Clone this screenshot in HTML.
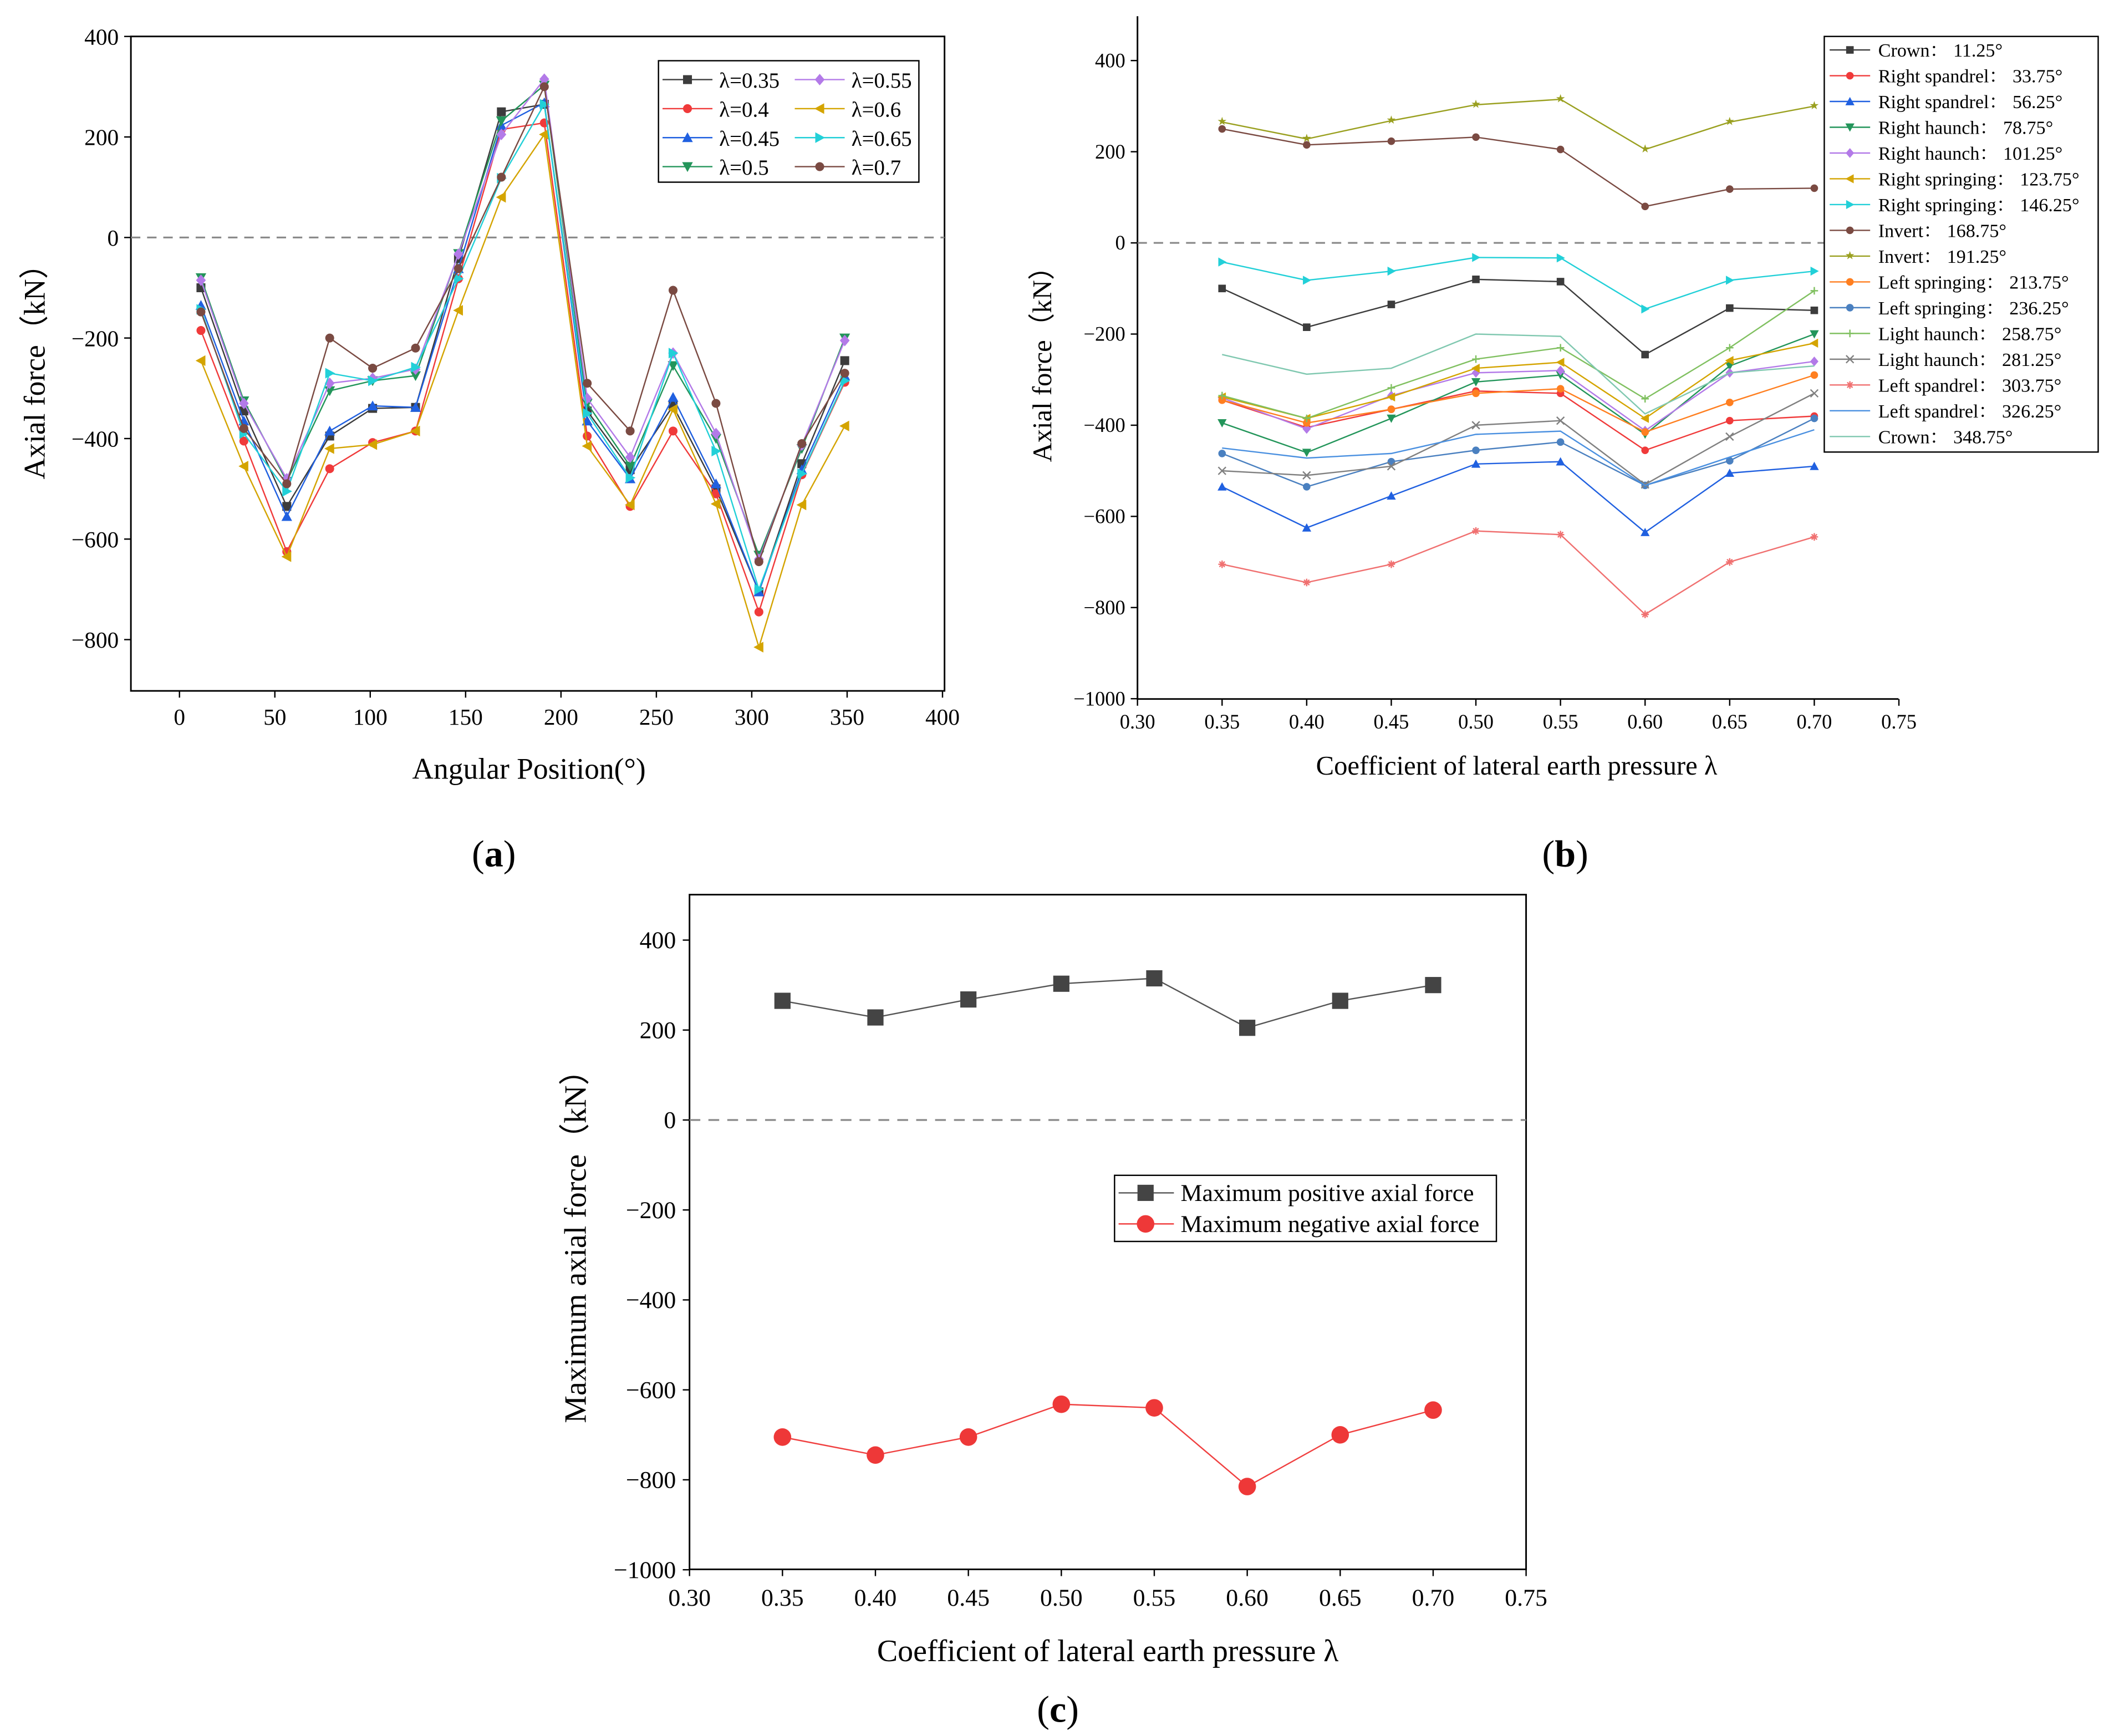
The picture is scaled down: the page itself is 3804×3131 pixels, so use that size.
<!DOCTYPE html>
<html><head><meta charset="utf-8"><style>
html,body{margin:0;padding:0;background:#fff;}
svg{display:block;font-family:"Liberation Serif",serif;}
</style></head><body>
<svg id="root" width="3804" height="3131" viewBox="0 0 1563 1286.5" xmlns="http://www.w3.org/2000/svg"></svg>
<script>
const lambdas=[0.35,0.40,0.45,0.50,0.55,0.60,0.65,0.70];
const angles=[11.25,33.75,56.25,78.75,101.25,123.75,146.25,168.75,191.25,213.75,236.25,258.75,281.25,303.75,326.25,348.75];
const posNames=["Crown","Right spandrel","Right spandrel","Right haunch","Right haunch","Right springing","Right springing","Invert","Invert","Left springing","Left springing","Light haunch","Light haunch","Left spandrel","Left spandrel","Crown"];
const f0=[-100,-185,-135,-80,-85,-245,-143,-148];
const f1=[-345,-405,-365,-325,-330,-455,-390,-380];
const f2=[-535,-625,-555,-485,-480,-635,-505,-490];
const f3=[-395,-460,-385,-305,-290,-420,-270,-200];
const f4=[-340,-408,-335,-285,-280,-412,-285,-260];
const f5=[-338,-385,-338,-275,-262,-385,-258,-220];
const f6=[-42,-82,-62,-32,-33,-145,-82,-62];
const f7=[250,215,223,232,205,80,118,120];
const f8=[265,228,268,303,315,205,265,300];
const f9=[-345,-395,-365,-330,-320,-415,-350,-290];
const f10=[-462,-535,-480,-455,-437,-532,-478,-385];
const f11=[-335,-385,-318,-255,-230,-342,-230,-105];
const f12=[-500,-510,-490,-400,-390,-530,-425,-330];
const f13=[-705,-745,-705,-632,-640,-815,-700,-645];
const f14=[-450,-472,-462,-420,-413,-532,-470,-410];
const f15=[-245,-288,-275,-200,-205,-375,-285,-270];
const forces=[f0,f1,f2,f3,f4,f5,f6,f7,f8,f9,f10,f11,f12,f13,f14,f15];
const maxPos=[265,228,268,303,315,205,265,300];
const maxNeg=[-705,-745,-705,-632,-640,-815,-700,-645];

const lamColors=["#3c3c3c","#f03a3a","#2060e0","#23955a","#b37ae8","#d4a400","#22d0d8","#7a4a42"];
const lamMarks=["sq","ci","tu","td","di","tl","tr","ci"];
const posColors=["#3c3c3c","#f03a3a","#2060e0","#23955a","#b37ae8","#d4a400","#22d0d8","#7a4a42","#9aa020","#ff7f20","#4a80c0","#80c060","#808080","#f07070","#4a90e0","#80c8b0"];
const posMarks=["sq","ci","tu","td","di","tl","tr","ci","st","ci","ci","pl","xx","as","no","no"];

const NS="http://www.w3.org/2000/svg";
const root=document.getElementById("root");
function mk(tag,at,parent){const e=document.createElementNS(NS,tag);for(const k in at)e.setAttribute(k,at[k]);(parent||root).appendChild(e);return e;}
function txt(s,at,parent){const e=mk("text",at,parent);e.textContent=s;return e;}
function marker(g,type,x,y,c,r){
  let e;
  if(type==="sq")e=mk("rect",{x:x-r,y:y-r,width:2*r,height:2*r,fill:c},g);
  else if(type==="ci")e=mk("circle",{cx:x,cy:y,r:r,fill:c},g);
  else if(type==="tu")e=mk("polygon",{points:`${x},${y-r*1.2} ${x-r*1.2},${y+r} ${x+r*1.2},${y+r}`,fill:c},g);
  else if(type==="td")e=mk("polygon",{points:`${x},${y+r*1.2} ${x-r*1.2},${y-r} ${x+r*1.2},${y-r}`,fill:c},g);
  else if(type==="tl")e=mk("polygon",{points:`${x-r*1.2},${y} ${x+r},${y-r*1.2} ${x+r},${y+r*1.2}`,fill:c},g);
  else if(type==="tr")e=mk("polygon",{points:`${x+r*1.2},${y} ${x-r},${y-r*1.2} ${x-r},${y+r*1.2}`,fill:c},g);
  else if(type==="di")e=mk("polygon",{points:`${x},${y-r*1.3} ${x+r*1.1},${y} ${x},${y+r*1.3} ${x-r*1.1},${y}`,fill:c},g);
  else if(type==="st")e=txt("★",{x:x,y:y+r*0.8,"font-size":r*3,"text-anchor":"middle",fill:c,"font-family":"DejaVu Sans"},g);
  else if(type==="pl")e=mk("path",{d:`M${x-r},${y}H${x+r}M${x},${y-r}V${y+r}`,stroke:c,"stroke-width":1},g);
  else if(type==="xx")e=mk("path",{d:`M${x-r},${y-r}L${x+r},${y+r}M${x-r},${y+r}L${x+r},${y-r}`,stroke:c,"stroke-width":1},g);
  else if(type==="as")e=mk("path",{d:`M${x-r},${y}H${x+r}M${x},${y-r}V${y+r}M${x-r*.7},${y-r*.7}L${x+r*.7},${y+r*.7}M${x-r*.7},${y+r*.7}L${x+r*.7},${y-r*.7}`,stroke:c,"stroke-width":1},g);
  if(e){}
}

/* ---------- panel (a) ---------- */
const A={x0:97,x1:700,y0:27,y1:512};
const ax=v=>133+v*1.41375;
const ay=v=>176-v*0.3725;
const ga=mk("g",{});


mk("rect",{x:A.x0,y:A.y0,width:A.x1-A.x0,height:A.y1-A.y0,fill:"none",stroke:"#000","stroke-width":1.2},ga);
mk("line",{x1:A.x0,x2:A.x1,y1:ay(0),y2:ay(0),stroke:"#888","stroke-width":1.3,"stroke-dasharray":"7,5"},ga);
const aXt=[0,50,100,150,200,250,300,350,400];
const aYt=[400,200,0,-200,-400,-600,-800];
aXt.forEach(v=>{mk("line",{x1:ax(v),x2:ax(v),y1:A.y1,y2:A.y1+5,stroke:"#000"},ga);
 const t=txt(String(v),{x:ax(v),y:537,"font-size":17,"text-anchor":"middle"},ga);});
aYt.forEach(v=>{mk("line",{x1:A.x0-5,x2:A.x0,y1:ay(v),y2:ay(v),stroke:"#000"},ga);
 const t=txt(v<0?"−"+(-v):String(v),{x:88,y:ay(v)+6,"font-size":17,"text-anchor":"end"},ga);});
let t=txt("Angular Position(°)",{x:392,y:577,"font-size":22,"text-anchor":"middle"},ga);
t=txt("Axial force（kN）",{x:0,y:0,"font-size":22,"text-anchor":"middle",transform:"translate(33,270) rotate(-90)"},ga);
lambdas.forEach((l,j)=>{
  const pts=angles.map((a,i)=>`${ax(a)},${ay(forces[i][j])}`).join(" ");
  const pl=mk("polyline",{points:pts,fill:"none",stroke:lamColors[j],"stroke-width":1},ga);
  
  
  angles.forEach((a,i)=>marker(ga,lamMarks[j],ax(a),ay(forces[i][j]),lamColors[j],3.3));
});
const la=mk("g",{},ga);


mk("rect",{x:488,y:45,width:193,height:90,fill:"#fff",stroke:"#000","stroke-width":1},la);
const aLab=["λ=0.35","λ=0.4","λ=0.45","λ=0.5","λ=0.55","λ=0.6","λ=0.65","λ=0.7"];
aLab.forEach((s,j)=>{
  const col=j<4?0:1,row=j%4;const x=col?589:491,y=59+row*21.5;
  const g=mk("g",{},la);
  
  
  mk("line",{x1:x,x2:x+37,y1:y,y2:y,stroke:lamColors[j]},g);
  marker(g,lamMarks[j],x+18.5,y,lamColors[j],3.3);
  txt(s,{x:x+42,y:y+6,"font-size":16},g);
});
t=txt("(a)",{x:366,y:642,"font-size":28,"text-anchor":"middle"});
t.innerHTML='(<tspan font-weight="bold">a</tspan>)';

/* ---------- panel (b) ---------- */
const B={x0:843,x1:1407,y0:12,y1:518};
const bx=v=>843+(v-0.30)*1254;
const by=v=>180-v*0.3378;
const gb=mk("g",{});


mk("path",{d:`M${B.x0},${B.y0}V${B.y1}H${B.x1}`,fill:"none",stroke:"#000","stroke-width":1.2},gb);
mk("line",{x1:B.x0,x2:B.x1,y1:by(0),y2:by(0),stroke:"#888","stroke-width":1.3,"stroke-dasharray":"7,5"},gb);
const bXt=[0.30,0.35,0.40,0.45,0.50,0.55,0.60,0.65,0.70,0.75];
const bYt=[400,200,0,-200,-400,-600,-800,-1000];
bXt.forEach(v=>{mk("line",{x1:bx(v),x2:bx(v),y1:B.y1,y2:B.y1+5,stroke:"#000"},gb);
 const t=txt(v.toFixed(2),{x:bx(v),y:540,"font-size":15,"text-anchor":"middle"},gb);});
bYt.forEach(v=>{mk("line",{x1:B.x0-5,x2:B.x0,y1:by(v),y2:by(v),stroke:"#000"},gb);
 const t=txt(v<0?"−"+(-v):String(v),{x:834,y:by(v)+5,"font-size":15,"text-anchor":"end"},gb);});
t=txt("Coefficient of lateral earth pressure λ",{x:1124,y:574,"font-size":20,"text-anchor":"middle"},gb);
t=txt("Axial force（kN）",{x:0,y:0,"font-size":20,"text-anchor":"middle",transform:"translate(779,265) rotate(-90)"},gb);
angles.forEach((a,i)=>{
  const pts=lambdas.map((l,j)=>`${bx(l)},${by(forces[i][j])}`).join(" ");
  const pl=mk("polyline",{points:pts,fill:"none",stroke:posColors[i],"stroke-width":1},gb);
  
  
  lambdas.forEach((l,j)=>marker(gb,posMarks[i],bx(l),by(forces[i][j]),posColors[i],2.8));
});
const lb=mk("g",{},gb);


mk("rect",{x:1352,y:27,width:203,height:308,fill:"#fff",stroke:"#000","stroke-width":1},lb);
angles.forEach((a,i)=>{
  const y=37+i*19.1;
  const g=mk("g",{},lb);
  
  
  mk("line",{x1:1356,x2:1386,y1:y,y2:y,stroke:posColors[i]},g);
  marker(g,posMarks[i],1371,y,posColors[i],2.8);
  txt(posNames[i]+"：  "+a+"°",{x:1392,y:y+5,"font-size":14,"font-family":"Liberation Serif, Noto Serif CJK SC, serif"},g);
});
t=txt("(b)",{x:1160,y:642,"font-size":28,"text-anchor":"middle"});
t.innerHTML='(<tspan font-weight="bold">b</tspan>)';

/* ---------- panel (c) ---------- */
const C={x0:511,x1:1131,y0:663,y1:1163};
const cx=v=>511+(v-0.30)*1377.8;
const cy=v=>830-v*0.3333;
const gc=mk("g",{});


mk("rect",{x:C.x0,y:C.y0,width:C.x1-C.x0,height:C.y1-C.y0,fill:"none",stroke:"#000","stroke-width":1.2},gc);
mk("line",{x1:C.x0,x2:C.x1,y1:cy(0),y2:cy(0),stroke:"#888","stroke-width":1.3,"stroke-dasharray":"8,6"},gc);
const cXt=[0.30,0.35,0.40,0.45,0.50,0.55,0.60,0.65,0.70,0.75];
const cYt=[400,200,0,-200,-400,-600,-800,-1000];
cXt.forEach(v=>{mk("line",{x1:cx(v),x2:cx(v),y1:C.y1,y2:C.y1+5,stroke:"#000"},gc);
 const t=txt(v.toFixed(2),{x:cx(v),y:1190,"font-size":18,"text-anchor":"middle"},gc);});
cYt.forEach(v=>{mk("line",{x1:C.x0-5,x2:C.x0,y1:cy(v),y2:cy(v),stroke:"#000"},gc);
 const t=txt(v<0?"−"+(-v):String(v),{x:501,y:cy(v)+6,"font-size":18,"text-anchor":"end"},gc);});
t=txt("Coefficient of lateral earth pressure λ",{x:821,y:1231,"font-size":23,"text-anchor":"middle"},gc);
t=txt("Maximum axial force（kN）",{x:0,y:0,"font-size":23,"text-anchor":"middle",transform:"translate(434,918) rotate(-90)"},gc);
let pl=mk("polyline",{points:lambdas.map((l,j)=>`${cx(l)},${cy(maxPos[j])}`).join(" "),fill:"none",stroke:"#555","stroke-width":1},gc);

lambdas.forEach((l,j)=>marker(gc,"sq",cx(l),cy(maxPos[j]),"#444",6));
pl=mk("polyline",{points:lambdas.map((l,j)=>`${cx(l)},${cy(maxNeg[j])}`).join(" "),fill:"none",stroke:"#f04040","stroke-width":1},gc);

lambdas.forEach((l,j)=>marker(gc,"ci",cx(l),cy(maxNeg[j]),"#ee3838",6.5));
const lc=mk("g",{},gc);


mk("rect",{x:826,y:871,width:283,height:49,fill:"#fff",stroke:"#000","stroke-width":1},lc);
let g=mk("g",{},lc);

mk("line",{x1:829,x2:870,y1:884,y2:884,stroke:"#555"},g);marker(g,"sq",849,884,"#444",6);
txt("Maximum positive axial force",{x:875,y:890,"font-size":18},g);
g=mk("g",{},lc);

mk("line",{x1:829,x2:870,y1:907,y2:907,stroke:"#f04040"},g);marker(g,"ci",849,907,"#ee3838",6.5);
txt("Maximum negative axial force",{x:875,y:913,"font-size":18},g);
t=txt("(c)",{x:784,y:1276,"font-size":28,"text-anchor":"middle"});
t.innerHTML='(<tspan font-weight="bold">c</tspan>)';
</script>
</body></html>
